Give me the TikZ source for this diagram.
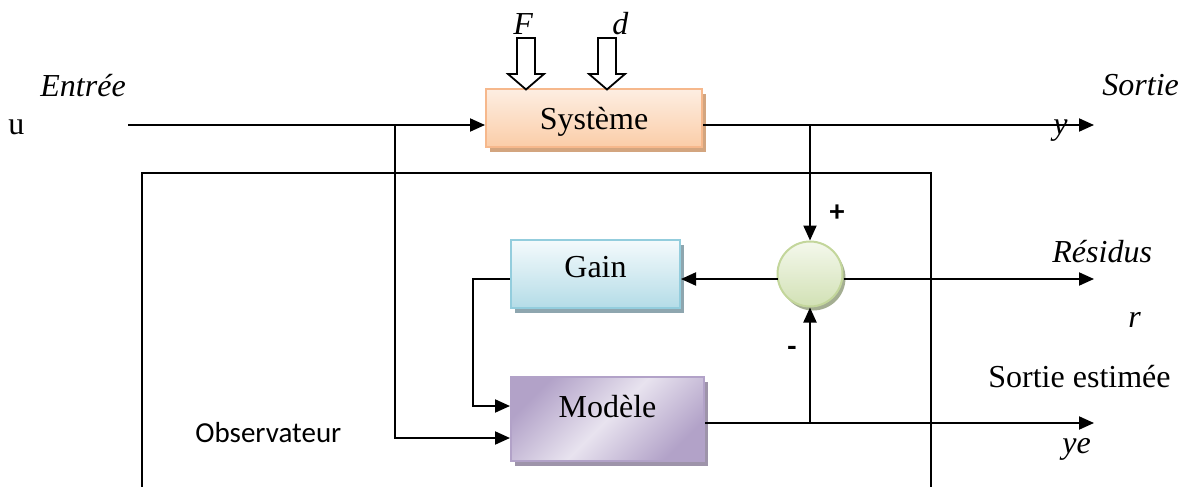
\documentclass[tikz,border=0pt]{standalone}
\usepackage{fontspec}
\setmainfont{Liberation Serif}
\newfontfamily\calibri{Carlito}
\usetikzlibrary{arrows.meta,shadows,calc}

\definecolor{sysTop}{HTML}{FDEEE2}
\definecolor{sysBot}{HTML}{FBCDA8}
\definecolor{sysLine}{HTML}{F6B88C}
\definecolor{sysShade}{HTML}{D3A57F}
\definecolor{gainTop}{HTML}{F4FAFC}
\definecolor{gainBot}{HTML}{B4DCE7}
\definecolor{gainLine}{HTML}{93CDDD}
\definecolor{gainShade}{HTML}{8EA6AF}
\definecolor{modDark}{HTML}{B2A2C8}
\definecolor{modLight}{HTML}{E8E3EF}
\definecolor{modShade}{HTML}{9E94AA}
\definecolor{sumTop}{HTML}{F4F8EC}
\definecolor{sumBot}{HTML}{D2E1B5}
\definecolor{sumLine}{HTML}{C3D69B}
\definecolor{sumShade}{HTML}{A4AE92}

\begin{document}
\begin{tikzpicture}[x=0.5pt,y=-0.5pt,
  font=\fontsize{16}{19}\selectfont,
  txt/.style={inner sep=0pt,anchor=base west},
  itxt/.style={txt,font=\fontsize{16}{19}\selectfont\itshape},
  wire/.style={line width=1pt},
  flow/.style={wire,-{Triangle[length=7.5pt,width=6.5pt]}},
  frame/.style={line width=0.8pt},
  hollow/.style={line width=0.9pt,fill=white,line join=miter},
  block/.style={rectangle,line width=1pt,inner sep=0pt},
  sysbox/.style={block,draw=sysLine,top color=sysTop,bottom color=sysBot,
    minimum width=108pt,minimum height=29pt,text depth=0pt,
    drop shadow={shadow xshift=2pt,shadow yshift=-2.5pt,fill=sysShade,opacity=1}},
  gainbox/.style={block,draw=gainLine,top color=gainTop,bottom color=gainBot,
    minimum width=84.5pt,minimum height=34pt,text depth=7.5pt,
    drop shadow={shadow xshift=2pt,shadow yshift=-2.5pt,fill=gainShade,opacity=1}},
  modbox/.style={block,draw=modDark,left color=modDark,right color=modDark,
    middle color=modLight,shading angle=45,
    minimum width=96.5pt,minimum height=42pt,text depth=13pt,
    drop shadow={shadow xshift=2pt,shadow yshift=-2.5pt,fill=modShade,opacity=1}},
  sumnode/.style={circle,line width=1pt,draw=sumLine,top color=sumTop,bottom color=sumBot,
    minimum size=32.5pt,inner sep=0pt,
    drop shadow={shadow xshift=1.5pt,shadow yshift=-2pt,fill=sumShade,opacity=1}},
  sign/.style={inner sep=0pt,font=\calibri\bfseries\fontsize{15}{17}\selectfont}
]
\useasboundingbox (0,0) rectangle (1180,487);

% observer frame (open at the bottom)
\draw[frame] (142,487) -- (142,173) -- (931,173) -- (931,487);

% blocks
\node[sysbox] (sys) at (594,118) {Système};
\node[gainbox] (gain) at (595.5,274) {Gain};
\node[modbox] (mod) at (607.5,419) {Modèle};
\node[sumnode] (sum) at (810,274) {};

% labels
\node[itxt] (entree) at (40,97) {Entrée};
\node[txt] (u) at (8,134) {u};
\node[itxt] (F) at (513,34) {F};
\node[itxt] (d) at (612,34) {d};
\node[itxt] (sortie) at (1102,96) {Sortie};
\node[itxt] (y) at (1053,134) {y};
\node[itxt] (residus) at (1052,262) {Résidus};
\node[itxt] (r) at (1128,327) {r};
\node[txt] (sest) at (988,387) {Sortie estimée};
\node[itxt] (ye) at (1062,453) {ye};
\node[txt,font=\calibri\fontsize{14.5}{17}\selectfont] (obs) at (195,442) {Observateur};
\node[sign] (plus) at (837,213) {+};
\node[sign] (minus) at (792,351) {-};

% disturbance inputs
\draw[hollow] (517,38) -- (535,38) -- (535,74) -- (544,74) -- (526,89.5) -- (508,74) -- (517,74) -- cycle;
\draw[hollow] (598,38) -- (616,38) -- (616,74) -- (625,74) -- (607,89.5) -- (589,74) -- (598,74) -- cycle;

% input u
\coordinate (uin) at (128,125);
\coordinate (ju) at (395,125);
\coordinate (jd) at (395,438);
\draw[flow] (uin) -- (sys.west |- uin);
\draw[flow] (ju) -- (jd) -- (mod.west |- jd);

% measured output y
\coordinate (yout) at (1094,125);
\coordinate (jy) at (810,125);
\draw[flow] (sys.east |- yout) -- (yout);
\draw[flow] (jy) -- (sum.north);

% residual r
\coordinate (rout) at (1094,279);
\coordinate (rin) at (778,279);
\draw[flow] (sum.east |- rout) -- (rout);
\draw[flow] (rin) -- (rin -| gain.east);

% gain feedback into the model
\coordinate (gl) at (473,279);
\coordinate (gd) at (473,406);
\draw[flow] (gl -| gain.west) -- (gl) -- (gd) -- (mod.west |- gd);

% estimated output ye
\coordinate (yeout) at (1094,423);
\coordinate (jm) at (810,423);
\draw[flow] (mod.east |- yeout) -- (yeout);
\draw[flow] (jm) -- (sum.south);
\end{tikzpicture}
\end{document}
